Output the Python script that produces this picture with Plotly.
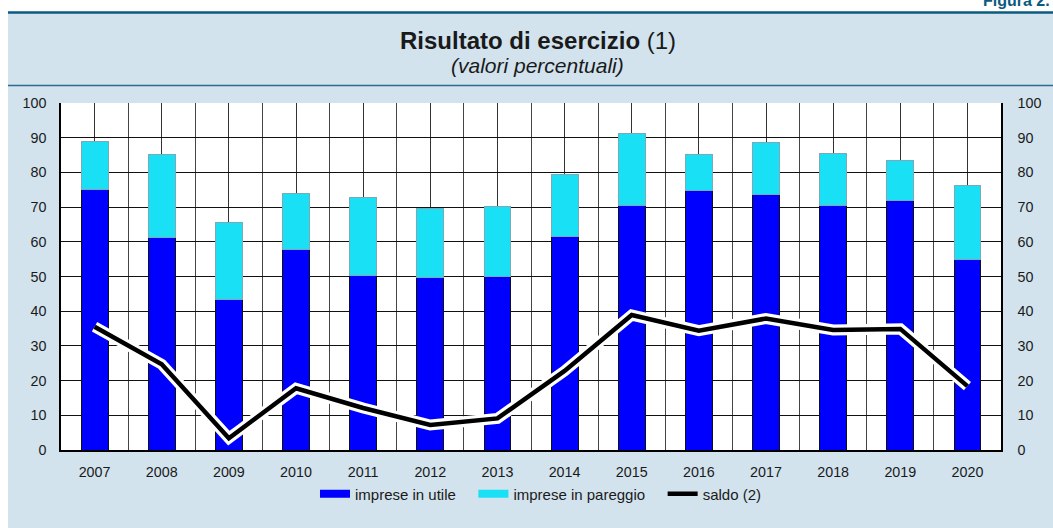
import plotly.graph_objects as go

years = [2007, 2008, 2009, 2010, 2011, 2012, 2013, 2014, 2015, 2016, 2017, 2018, 2019, 2020]
utile = [75.2, 61.1, 43.5, 57.9, 50.4, 49.6, 49.9, 61.4, 70.6, 74.8, 73.5, 70.6, 71.8, 55.0]
pareggio = [13.8, 24.0, 22.2, 15.9, 22.5, 19.9, 20.4, 17.9, 20.7, 10.5, 15.2, 14.8, 11.7, 21.3]
saldo = [35.5, 24.7, 3.4, 17.8, 12.1, 7.2, 9.1, 22.8, 38.9, 34.4, 37.9, 34.6, 34.9, 18.4]
y_ticks = [0, 10, 20, 30, 40, 50, 60, 70, 80, 90, 100]

BLUE = "#0000ff"
CYAN = "#1ae0f5"

W, H = 1053, 528
L, R, T, B = 61, 1001, 103, 450  # plot area in pixels
pw, ph = R - L, B - T


def px(x):
    return (x - L) / pw


def py(y):
    return (B - y) / ph


FONT = "Liberation Sans, Arial, sans-serif"
TXT = "#1a1a1a"
PAD = "\u00a0" * 3

fig = go.Figure()
fig.add_trace(go.Bar(x=years, y=utile, name="imprese in utile", width=0.4, showlegend=False,
                     marker=dict(color=BLUE, line=dict(color="#111111", width=1))))
fig.add_trace(go.Bar(x=years, y=pareggio, name="imprese in pareggio", width=0.4, showlegend=False,
                     marker=dict(color=CYAN, line=dict(color="#7aaab8", width=1))))
fig.add_trace(go.Scatter(x=years, y=saldo, mode="lines", showlegend=False, yaxis="y2",
                         line=dict(color="white", width=11), hoverinfo="skip"))
fig.add_trace(go.Scatter(x=years, y=saldo, mode="lines", name="saldo (2)", yaxis="y2", showlegend=False,
                         line=dict(color="black", width=4.5)))
# legend entries (swatches as wide bars, like the original)
fig.add_trace(go.Scatter(x=[None], y=[None], mode="lines", name="imprese in utile" + PAD,
                         line=dict(color=BLUE, width=8)))
fig.add_trace(go.Scatter(x=[None], y=[None], mode="lines", name="imprese in pareggio" + PAD,
                         line=dict(color=CYAN, width=8)))
fig.add_trace(go.Scatter(x=[None], y=[None], mode="lines", name="saldo (2)",
                         line=dict(color="black", width=4.5)))

shapes = [
    dict(type="rect", xref="paper", yref="paper", x0=px(8), x1=px(W + 2), y0=py(13), y1=py(H + 5),
         fillcolor="#d2e3ee", line=dict(width=0), layer="below"),
    dict(type="rect", xref="paper", yref="paper", x0=0, x1=1, y0=0, y1=1,
         fillcolor="white", line=dict(width=0), layer="below"),
    dict(type="line", xref="paper", yref="paper", x0=px(8), x1=px(W + 2), y0=py(12.5), y1=py(12.5),
         line=dict(color="#0b5a80", width=2.5)),
    dict(type="line", xref="paper", yref="paper", x0=px(8), x1=px(W + 2), y0=py(85.5), y1=py(85.5),
         line=dict(color="#2c6d90", width=1.5)),
]

annotations = [
    dict(text="<b>Risultato di esercizio</b> (1)", xref="paper", yref="paper", x=px(538), y=py(41),
         xanchor="center", yanchor="middle", showarrow=False, font=dict(family=FONT, size=24, color=TXT)),
    dict(text="<i>(valori percentuali)</i>", xref="paper", yref="paper", x=px(537), y=py(65),
         xanchor="center", yanchor="middle", showarrow=False, font=dict(family=FONT, size=21, color=TXT)),
    dict(text="<b>Figura 2.</b>", xref="paper", yref="paper", x=px(1052), y=py(1),
         xanchor="right", yanchor="middle", showarrow=False, font=dict(family=FONT, size=16, color="#0b5a80")),
]

fig.update_layout(
    width=W, height=H,
    margin=dict(l=L, r=W - R, t=T, b=H - B, pad=0),
    paper_bgcolor="white", plot_bgcolor="rgba(0,0,0,0)",
    barmode="stack", bargap=0.6,
    font=dict(family=FONT, size=14, color=TXT),
    shapes=shapes, annotations=annotations,
    showlegend=True,
    legend=dict(orientation="h", x=px(315), xanchor="left", y=py(494), yanchor="middle",
                bgcolor="rgba(0,0,0,0)", font=dict(family=FONT, size=15, color=TXT),
                traceorder="normal", itemwidth=30),
    xaxis=dict(range=[2006.5, 2020.5], tickmode="array", tickvals=years, ticktext=[str(y) for y in years],
               showgrid=True, gridcolor="#333333", gridwidth=1,
               minor=dict(tickmode="linear", tick0=2006.5, dtick=1, showgrid=True, gridcolor="#444444", gridwidth=1),
               showline=True, linecolor="black", linewidth=1.5,
               ticks="outside", ticklen=8, tickcolor="rgba(0,0,0,0)", zeroline=False, fixedrange=True,
               tickfont=dict(size=14.3)),
    yaxis=dict(range=[0, 100], tickvals=y_ticks, showgrid=True, gridcolor="#111111", gridwidth=1,
               showline=True, linecolor="black", linewidth=1.5, mirror=False,
               ticks="outside", ticklen=10, tickcolor="rgba(0,0,0,0)", zeroline=False,
               tickfont=dict(size=14.3)),
    yaxis2=dict(range=[0, 100], tickvals=y_ticks, overlaying="y", side="right", showgrid=False,
                showline=True, linecolor="black", linewidth=1.5,
                ticks="outside", ticklen=12, tickcolor="rgba(0,0,0,0)", zeroline=False,
                tickfont=dict(size=14.3)),
)

fig.write_html("out.html", config={"displayModeBar": False},
               post_script="document.body.style.margin='0';document.body.style.padding='0';")
